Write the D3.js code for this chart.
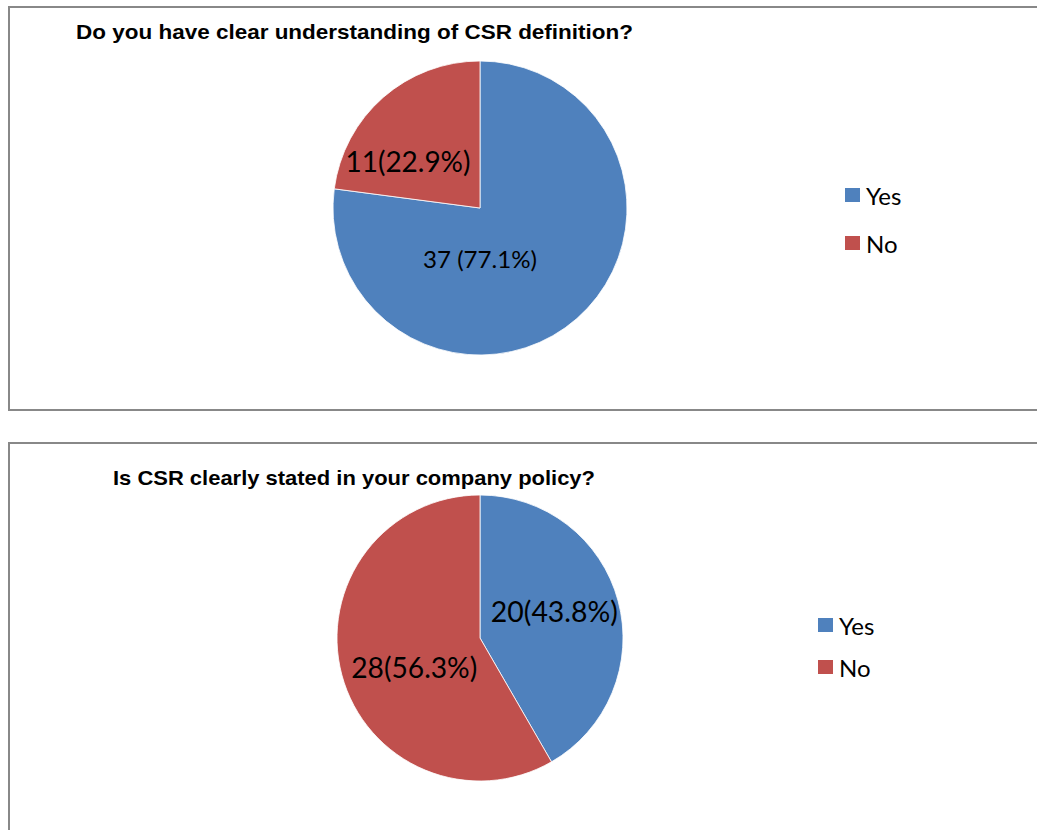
<!DOCTYPE html>
<html>
<head>
<meta charset="utf-8">
<style>
  body { margin: 0; background: #fff; }
  svg { display: block; }
</style>
</head>
<body>
<svg id="container" width="1037" height="830"></svg>

<script src="https://d3js.org/d3.v7.min.js"></script>
<script>
  // chart data
  const categories = ['Yes', 'No']
  const titles = [
    'Do you have clear understanding of CSR definition?',
    'Is CSR clearly stated in your company policy?'
  ]
  const valuesQ1 = [37, 11]
  const valuesQ2 = [20, 28]
  const labelsQ1 = ['37 (77.1%)', '11(22.9%)']
  const labelsQ2 = ['20(43.8%)', '28(56.3%)']

  const color = d3.scaleOrdinal()
    .domain(categories)
    .range(['#4f81bd', '#c0504d'])

  const svg = d3.select('#container')

  // each panel: box, title, pie centre, label offsets (fraction of r), legend spot
  const panels = [
    {
      box: [9, 7, 1040, 410], title: titles[0], titleX: 76, titleY: 39, titleW: 557,
      cx: 480, cy: 208, r: 147, values: valuesQ1, labels: labelsQ1,
      labelPos: [[0.0, 0.35], [-0.49, -0.32]], labelSize: [23, 28], labelW: [114, 125],
      legendX: 845, legendY: 195, legendGap: 48
    },
    {
      box: [9, 443, 1040, 840], title: titles[1], titleX: 113, titleY: 485, titleW: 482,
      cx: 480, cy: 638, r: 143, values: valuesQ2, labels: labelsQ2,
      labelPos: [[0.52, -0.19], [-0.46, 0.2]], labelSize: [28, 28], labelW: [127, 126],
      legendX: 818, legendY: 625, legendGap: 42
    }
  ]

  panels.forEach(p => {
    const g = svg.append('g')

    g.append('rect')
      .attr('x', p.box[0]).attr('y', p.box[1])
      .attr('width', p.box[2] - p.box[0]).attr('height', p.box[3] - p.box[1])
      .attr('fill', 'none')
      .attr('stroke', '#888')
      .attr('stroke-width', 2)

    g.append('text')
      .attr('x', p.titleX).attr('y', p.titleY)
      .attr('font-family', '"Liberation Sans", Arial, sans-serif')
      .attr('font-weight', 'bold')
      .attr('font-size', 21)
      .attr('textLength', p.titleW)
      .attr('lengthAdjust', 'spacingAndGlyphs')
      .text(p.title)

    const pie = d3.pie().sort(null)
    const arcs = pie(p.values)
    const arc = d3.arc().innerRadius(0).outerRadius(p.r)

    const pieG = g.append('g').attr('transform', `translate(${p.cx},${p.cy})`)

    pieG.selectAll('path')
      .data(arcs)
      .enter()
      .append('path')
      .attr('d', arc)
      .attr('fill', (d, i) => color(categories[i]))
      .attr('stroke', '#fff')
      .attr('stroke-width', 0.8)

    pieG.selectAll('text')
      .data(arcs)
      .enter()
      .append('text')
      .attr('x', (d, i) => p.r * p.labelPos[i][0] - p.labelW[i] / 2)
      .attr('y', (d, i) => p.r * p.labelPos[i][1])
      .attr('dominant-baseline', 'central')
      .attr('font-family', 'Lato, "Open Sans", sans-serif')
      .attr('font-size', (d, i) => p.labelSize[i])
      .attr('textLength', (d, i) => p.labelW[i])
      .attr('lengthAdjust', 'spacingAndGlyphs')
      .text((d, i) => p.labels[i])

    // legend
    const leg = g.selectAll('.leg')
      .data(categories)
      .enter()
      .append('g')
      .attr('transform', (d, i) => `translate(${p.legendX},${p.legendY + i * p.legendGap})`)

    leg.append('rect')
      .attr('x', 0).attr('y', -7)
      .attr('width', 15).attr('height', 14)
      .attr('fill', d => color(d))

    leg.append('text')
      .attr('x', 21).attr('y', 0)
      .attr('dominant-baseline', 'central')
      .attr('font-family', 'Lato, "Open Sans", sans-serif')
      .attr('font-size', 24)
      .text(d => d)
  })
</script>
</body>
</html>
